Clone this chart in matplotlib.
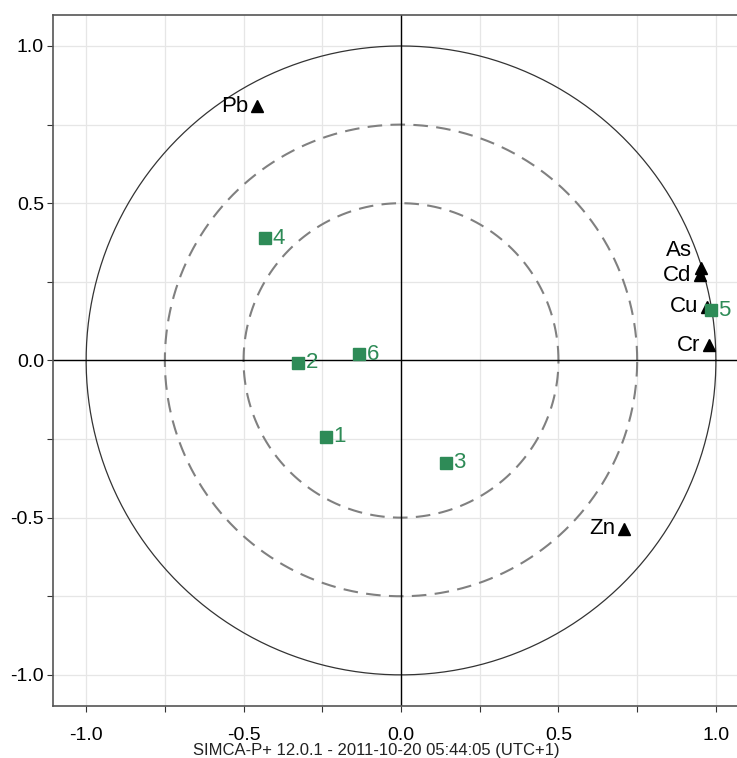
import numpy as np
import matplotlib.pyplot as plt
from matplotlib.ticker import MultipleLocator

plt.rcParams['font.family'] = ['Liberation Sans', 'DejaVu Sans']

# variables (loadings)
var_names = ['Pb', 'As', 'Cd', 'Cu', 'Cr', 'Zn']
var_x = [-0.457, 0.952, 0.949, 0.971, 0.978, 0.708]
var_y = [0.809, 0.293, 0.271, 0.170, 0.049, -0.536]
# label nudges so As and Cd do not sit on top of each other
var_dy = [0.0, 0.055, 0.0, 0.0, 0.0, 0.0]

# observations (scores)
obs_names = ['1', '2', '3', '4', '5', '6']
obs_x = [-0.238, -0.327, 0.143, -0.432, 0.984, -0.133]
obs_y = [-0.243, -0.008, -0.326, 0.389, 0.160, 0.020]

circle_radii = [1.0, 0.75, 0.5]
green = '#2E8B57'

fig = plt.figure(figsize=(7.37, 7.58), dpi=100)
ax = fig.add_axes([0.072, 0.069, 0.928, 0.911])

t = np.linspace(0, 2 * np.pi, 400)
for r in circle_radii:
    if r == 1.0:
        ax.plot(r * np.cos(t), r * np.sin(t), color='#333333', lw=0.9, zorder=2)
    else:
        ax.plot(r * np.cos(t), r * np.sin(t), color='#808080', lw=1.5,
                dashes=(7, 4), zorder=2)

ax.axhline(0, color='black', lw=1, zorder=2)
ax.axvline(0, color='black', lw=1, zorder=2)

ax.plot(var_x, var_y, '^', color='black', ms=9, zorder=4)
for n, x, y, dy in zip(var_names, var_x, var_y, var_dy):
    ax.text(x - 0.028, y + dy, n, ha='right', va='center', fontsize=16, color='black', zorder=5)

ax.plot(obs_x, obs_y, 's', color=green, ms=8.5, zorder=4)
for n, x, y in zip(obs_names, obs_x, obs_y):
    ax.text(x + 0.024, y, n, ha='left', va='center', fontsize=16, color=green, zorder=5)

ax.set_xlim(-1.105, 1.067)
ax.set_ylim(-1.098, 1.098)

ax.xaxis.set_major_locator(MultipleLocator(0.5))
ax.xaxis.set_minor_locator(MultipleLocator(0.25))
ax.yaxis.set_major_locator(MultipleLocator(0.5))
ax.yaxis.set_minor_locator(MultipleLocator(0.25))
ax.xaxis.set_major_formatter(plt.FormatStrFormatter('%.1f'))
ax.yaxis.set_major_formatter(plt.FormatStrFormatter('%.1f'))
ax.tick_params(which='both', direction='out', length=4.5, width=0.8, color='#333333',
               labelsize=14)
ax.tick_params(axis='x', which='major', pad=11)
ax.tick_params(axis='y', which='major', pad=2)
ax.grid(which='both', color='#e6e6e6', lw=0.9, zorder=0)
ax.set_axisbelow(True)

ax.spines['right'].set_visible(False)
for s in ['left', 'bottom', 'top']:
    ax.spines[s].set_color('#555555')
    ax.spines[s].set_linewidth(1.2)

fig.text(0.51, 0.0, 'SIMCA-P+ 12.0.1 - 2011-10-20 05:44:05 (UTC+1)', ha='center', va='bottom',
         fontsize=12, family=['Liberation Sans Narrow', 'Liberation Sans'], color='#222222')

fig.savefig('out.png', dpi=100)
